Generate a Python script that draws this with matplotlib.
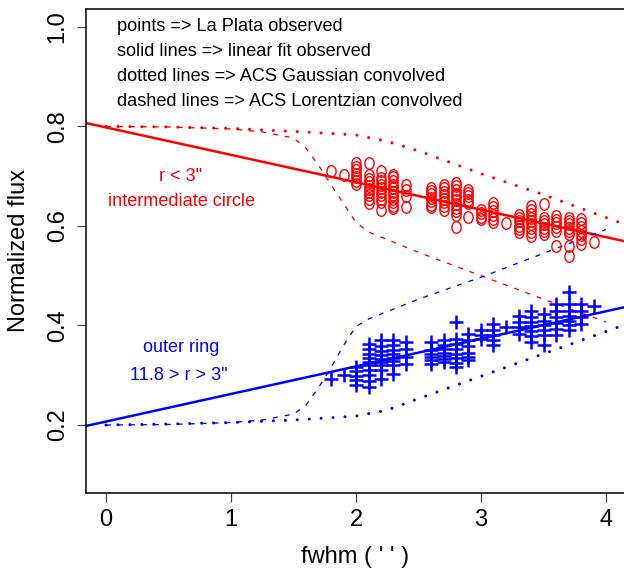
import matplotlib
matplotlib.use("Agg")
import matplotlib.pyplot as plt
import numpy as np

plt.rcParams['font.family'] = ['Liberation Sans', 'DejaVu Sans']
plt.rcParams['lines.scale_dashes'] = False

# observed La Plata points, one column per fwhm value
red_fwhm = [1.8, 1.9, 2.0, 2.1, 2.2, 2.3, 2.4, 2.6, 2.7, 2.8, 2.9,
            3.0, 3.1, 3.2, 3.3, 3.4, 3.5, 3.6, 3.7, 3.8, 3.9]
red_flux = [
    [0.710],
    [0.703],
    [0.727, 0.719, 0.712, 0.705, 0.698, 0.691, 0.685],
    [0.727, 0.703, 0.695, 0.688, 0.681, 0.675, 0.669, 0.662, 0.655, 0.647],
    [0.710, 0.697, 0.690, 0.683, 0.676, 0.669, 0.662, 0.655, 0.648, 0.633],
    [0.703, 0.698, 0.690, 0.683, 0.676, 0.669, 0.662, 0.655, 0.648, 0.641, 0.637],
    [0.683, 0.673, 0.660, 0.639],
    [0.677, 0.671, 0.664, 0.657, 0.650, 0.643, 0.639],
    [0.683, 0.676, 0.669, 0.662, 0.655, 0.648, 0.640, 0.633],
    [0.687, 0.680, 0.672, 0.665, 0.660, 0.652, 0.645, 0.637, 0.630, 0.623, 0.598],
    [0.673, 0.666, 0.660, 0.653, 0.647, 0.618],
    [0.633, 0.626, 0.619, 0.613],
    [0.647, 0.638, 0.630, 0.622, 0.614, 0.607],
    [0.605],
    [0.623, 0.616, 0.609, 0.600, 0.593, 0.587],
    [0.640, 0.633, 0.625, 0.617, 0.610, 0.603, 0.596, 0.588, 0.580],
    [0.645, 0.617, 0.610, 0.603, 0.596, 0.590, 0.583],
    [0.620, 0.612, 0.605, 0.597, 0.590, 0.560],
    [0.617, 0.610, 0.603, 0.596, 0.590, 0.583, 0.560, 0.540],
    [0.613, 0.605, 0.598, 0.590, 0.582, 0.574, 0.563],
    [0.567],
]

blue_fwhm = red_fwhm
blue_flux = [
    [0.293],
    [0.300],
    [0.317, 0.308, 0.298, 0.290, 0.280],
    [0.363, 0.352, 0.343, 0.335, 0.327, 0.320, 0.310, 0.300, 0.288, 0.277],
    [0.370, 0.358, 0.348, 0.340, 0.333, 0.326, 0.320, 0.310, 0.293],
    [0.370, 0.360, 0.350, 0.342, 0.335, 0.328, 0.320, 0.303],
    [0.367, 0.352, 0.337, 0.323],
    [0.367, 0.350, 0.343, 0.337, 0.330, 0.323],
    [0.370, 0.360, 0.352, 0.345, 0.338, 0.332, 0.327],
    [0.407, 0.372, 0.362, 0.352, 0.343, 0.335, 0.325, 0.317],
    [0.383, 0.370, 0.358, 0.345, 0.337, 0.330],
    [0.390, 0.380, 0.373],
    [0.403, 0.390, 0.380, 0.370, 0.360],
    [0.397],
    [0.420, 0.408, 0.396, 0.383],
    [0.430, 0.418, 0.408, 0.398, 0.388, 0.378, 0.367],
    [0.423, 0.410, 0.400, 0.390, 0.380, 0.360],
    [0.443, 0.430, 0.418, 0.405, 0.393, 0.380],
    [0.467, 0.443, 0.430, 0.420, 0.410, 0.400, 0.390],
    [0.443, 0.430, 0.418, 0.403],
    [0.440],
]

# linear fits (intercept, slope)
red_fit = (0.798, -0.0551)
blue_fit = (0.207, 0.0554)

# ACS Gaussian convolved (dotted)
gauss_fwhm = [0.0, 0.5, 1.0, 1.5, 2.0, 2.25, 2.5, 3.0, 3.5, 4.0, 4.3]
gauss_red = [0.800, 0.799, 0.796, 0.790, 0.783, 0.770, 0.751, 0.705, 0.663, 0.617, 0.590]
gauss_blue = [0.200, 0.202, 0.205, 0.210, 0.218, 0.230, 0.253, 0.298, 0.343, 0.388, 0.415]

# ACS Lorentzian convolved (dashed)
lor_fwhm = [0.0, 0.5, 1.0, 1.25, 1.5, 1.6, 1.7, 1.8, 1.9, 2.0, 2.1, 2.5, 3.0, 3.5, 4.0]
lor_red = [0.800, 0.799, 0.795, 0.789, 0.777, 0.756, 0.722, 0.683, 0.645, 0.607,
           0.588, 0.547, 0.500, 0.453, 0.407]
lor_blue = [0.200, 0.201, 0.205, 0.210, 0.222, 0.240, 0.275, 0.315, 0.360, 0.398,
            0.413, 0.453, 0.497, 0.545, 0.593]

legend_lines = ["points => La Plata observed",
                "solid lines => linear fit observed",
                "dotted lines => ACS Gaussian convolved",
                "dashed lines => ACS Lorentzian convolved"]

W, H = 624, 568
fig = plt.figure(figsize=(W / 100, H / 100), dpi=100)
ax = fig.add_axes([86 / W, (H - 492.7) / H, (626 - 86) / W, (492.7 - 9) / H])
ax.set_xlim(-0.16, 4.16)
ax.set_ylim(0.064, 1.036)

# oval "o" marker
t = np.linspace(0, 2 * np.pi, 40)
oval = np.column_stack([0.8 * np.cos(t), np.sin(t)])

dotted = (0, (0.01, 8.6))
dashed = (0, (3.6, 5.0))

for c, fit, g, l in [("#ff0000", red_fit, gauss_red, lor_red),
                     ("#0000ff", blue_fit, gauss_blue, lor_blue)]:
    xs = np.array([-0.16, 4.16])
    ax.plot(xs, fit[0] + fit[1] * xs, color=c, lw=1.8, solid_capstyle="butt")
    ax.plot(gauss_fwhm, g, color=c, lw=2.2, linestyle=dotted, dash_capstyle="round")
    ax.plot(lor_fwhm, l, color=c, lw=0.95, linestyle=dashed)

for x, ys in zip(red_fwhm, red_flux):
    ax.plot([x] * len(ys), ys, linestyle="none", marker=oval, markersize=8.3,
            mfc="none", mec="#ff0000", mew=1.0)
for x, ys in zip(blue_fwhm, blue_flux):
    ax.plot([x] * len(ys), ys, linestyle="none", marker="+", markersize=10,
            mec="#0000ff", mew=1.8)

for i, s in enumerate(legend_lines):
    ax.text(0.09, 1.0 - 0.05 * i, s, fontsize=13.1, ha="left", va="center")

ax.text(0.6, 0.70, 'r < 3"', color="#ff0000", fontsize=13.1, ha="center", va="center")
ax.text(0.6, 0.65, "intermediate circle", color="#ff0000", fontsize=13.1,
        ha="center", va="center")
ax.text(0.6, 0.355, "outer ring", color="#0000ff", fontsize=13.1, ha="center", va="center")
ax.text(0.58, 0.30, '11.8 > r > 3"', color="#0000ff", fontsize=13.1,
        ha="center", va="center")

ax.set_xticks([0, 1, 2, 3, 4])
ax.set_yticks([0.2, 0.4, 0.6, 0.8, 1.0])
ax.set_xticklabels(["0", "1", "2", "3", "4"])
ax.set_yticklabels(["0.2", "0.4", "0.6", "0.8", "1.0"], rotation=90, va="center")
ax.tick_params(direction="out", length=6.5, width=0.9, labelsize=17, color="#444444")
ax.tick_params(axis="x", pad=5)
ax.tick_params(axis="y", pad=6)
for sp in ax.spines.values():
    sp.set_linewidth(1.1)

fig.text(19.5 / W, 1 - 250 / H, "Normalized flux", rotation=90, fontsize=17,
         ha="center", va="center")
fig.text(355 / W, 4.5 / H, "fwhm ( ' ' )", fontsize=17, ha="center", va="baseline")

fig.savefig("out.png", dpi=100)
